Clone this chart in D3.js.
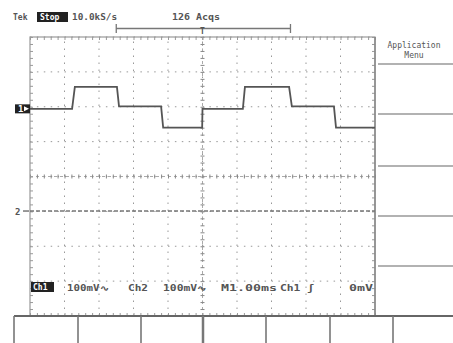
<!DOCTYPE html>
<html>
<head>
<meta charset="utf-8">
<script src="https://cdn.jsdelivr.net/npm/d3@7"></script>
<style>
  body { margin: 0; background: #fff; }
  svg { display: block; }
  text { font-family: "DejaVu Sans Mono", monospace; font-weight: bold; fill: #555; }
</style>
</head>
<body>
<div id="scope"></div>
<script>
// ch1 waveform, time in ms from trigger, volts in mV above the ch1 ground marker
let ch1Time = [-5, -3.78, -3.70, -2.48, -2.42, -1.20, -1.14, -0.01, 0.0, 1.17, 1.23, 2.51, 2.59, 3.81, 3.87, 5];
let ch1Volts = [0, 0, 63, 63, 7, 7, -54, -54, 0, 0, 63, 63, 7, 7, -54, -54];
// ch2 is flat at its ground
let ch2Time = [-5, 5];
let ch2Volts = [0, 0];

let ch1Position = 1.94; // divisions above centre
let ch2Position = -0.99;
let voltsPerDiv = 100;
let msPerDiv = 1;

let statusLabels = ["100mV\u223F", "Ch2", "100mV\u223F", "M1.00ms", "Ch1 \u0283", "0mV"];
let menuTitle = ["Application", "Menu"];

let width = 453, height = 343;
let marginLeft = 30, marginTop = 37, plotW = 345, plotH = 279;

let svg = d3.select("#scope").append("svg")
    .attr("width", width)
    .attr("height", height);

// scales, in divisions
let x = d3.scaleLinear().domain([-5, 5]).range([marginLeft, marginLeft + plotW]);
let y = d3.scaleLinear().domain([-4, 4]).range([marginTop + plotH, marginTop]);

let g = svg.append("g");

// dotted grid
d3.range(-4, 5).forEach(function (d) {
    if (d === -5 || d === 5) return;
    g.append("line")
        .attr("x1", x(-5)).attr("x2", x(5))
        .attr("y1", y(d)).attr("y2", y(d))
        .attr("stroke", "#999").attr("stroke-width", 1)
        .attr("stroke-dasharray", "1.5,5.4");
});
d3.range(-4, 5).forEach(function (d) {
    g.append("line")
        .attr("x1", x(d)).attr("x2", x(d))
        .attr("y1", y(-4)).attr("y2", y(4))
        .attr("stroke", "#999").attr("stroke-width", 1)
        .attr("stroke-dasharray", "1.5,5.5");
});

// centre cross with minor ticks
let minor = d3.range(-5, 5.01, 0.2);
let minorY = d3.range(-4, 4.01, 0.2);
g.append("line").attr("x1", x(-5)).attr("x2", x(5)).attr("y1", y(0)).attr("y2", y(0))
    .attr("stroke", "#aaa").attr("stroke-dasharray", "3,3");
g.append("line").attr("x1", x(0)).attr("x2", x(0)).attr("y1", y(-4)).attr("y2", y(4))
    .attr("stroke", "#aaa").attr("stroke-dasharray", "3,3");

g.append("g")
    .attr("transform", "translate(0," + (y(0) - 2) + ")")
    .call(d3.axisBottom(x).tickValues(minor).tickSize(4).tickFormat(""))
    .call(a => a.select(".domain").remove())
    .selectAll("line").attr("stroke", "#888");
g.append("g")
    .attr("transform", "translate(" + (x(0) - 2) + ",0)")
    .call(d3.axisRight(y).tickValues(minorY).tickSize(4).tickFormat(""))
    .call(a => a.select(".domain").remove())
    .selectAll("line").attr("stroke", "#888");

// border with ticks on the inside
g.append("rect")
    .attr("x", x(-5)).attr("y", y(4))
    .attr("width", plotW).attr("height", plotH)
    .attr("fill", "none").attr("stroke", "#999").attr("stroke-width", 1.2);
g.append("g").attr("transform", "translate(0," + y(4) + ")")
    .call(d3.axisBottom(x).tickValues(minor).tickSize(3).tickFormat(""))
    .call(a => a.select(".domain").remove())
    .selectAll("line").attr("stroke", "#999");
g.append("g").attr("transform", "translate(0," + y(-4) + ")")
    .call(d3.axisTop(x).tickValues(minor).tickSize(3).tickFormat(""))
    .call(a => a.select(".domain").remove())
    .selectAll("line").attr("stroke", "#999");
g.append("g").attr("transform", "translate(" + x(-5) + ",0)")
    .call(d3.axisRight(y).tickValues(minorY).tickSize(3).tickFormat(""))
    .call(a => a.select(".domain").remove())
    .selectAll("line").attr("stroke", "#999");
g.append("g").attr("transform", "translate(" + x(5) + ",0)")
    .call(d3.axisLeft(y).tickValues(minorY).tickSize(3).tickFormat(""))
    .call(a => a.select(".domain").remove())
    .selectAll("line").attr("stroke", "#999");
g.append("line").attr("x1", x(5)).attr("x2", x(5)).attr("y1", y(4)).attr("y2", y(-4))
    .attr("stroke", "#888").attr("stroke-width", 1.5);

// traces
let ch1Line = d3.line()
    .x(function (d, i) { return x(ch1Time[i] / msPerDiv); })
    .y(function (d) { return y(d / voltsPerDiv + ch1Position); });
svg.append("path")
    .attr("d", ch1Line(ch1Volts))
    .attr("fill", "none").attr("stroke", "#555").attr("stroke-width", 1.8);

let ch2Line = d3.line()
    .x(function (d, i) { return x(ch2Time[i] / msPerDiv); })
    .y(function (d) { return y(d / voltsPerDiv + ch2Position); });
svg.append("path")
    .attr("d", ch2Line(ch2Volts))
    .attr("fill", "none").attr("stroke", "#777").attr("stroke-width", 1.4)
    .attr("stroke-dasharray", "4,2");

// ground markers
let m1 = y(ch1Position);
svg.append("rect").attr("x", 15).attr("y", m1 - 4.5).attr("width", 15).attr("height", 9).attr("fill", "#222");
svg.append("text").attr("x", 18).attr("y", m1 + 3.5).style("font-size", "9px").style("fill", "#fff").text("1");
svg.append("path").attr("d", "M24," + (m1 - 2.5) + "L29," + m1 + "L24," + (m1 + 2.5) + "Z").attr("fill", "#fff");
let m2 = y(ch2Position);
svg.append("text").attr("x", 15).attr("y", m2 + 3.5).style("font-size", "9px").text("2");
svg.append("path").attr("d", "M23," + m2 + "L29," + m2).attr("stroke", "#555").attr("stroke-width", 1.2);

// top header
svg.append("text").attr("x", 13).attr("y", 20).style("font-size", "8px").text("Tek");
svg.append("rect").attr("x", 37).attr("y", 12).attr("width", 31).attr("height", 10).attr("fill", "#222");
svg.append("text").attr("x", 40).attr("y", 20).style("font-size", "8px").style("fill", "#fff").text("Stop");
svg.append("text").attr("x", 72).attr("y", 20).style("font-size", "8px")
    .attr("textLength", 45).attr("lengthAdjust", "spacingAndGlyphs").text("10.0kS/s");
svg.append("text").attr("x", 172).attr("y", 20).style("font-size", "8px")
    .attr("textLength", 48).attr("lengthAdjust", "spacingAndGlyphs").text("126 Acqs");

// trigger bracket
svg.append("path")
    .attr("d", "M" + x(-2.5) + ",24V33M" + x(-2.5) + ",28.5H" + x(2.55) + "M" + x(2.55) + ",24V33")
    .attr("fill", "none").attr("stroke", "#777").attr("stroke-width", 1.3);
svg.append("text").attr("x", x(0)).attr("y", 34).attr("text-anchor", "middle").style("font-size", "8px").text("T");

// status line
svg.append("rect").attr("x", 31).attr("y", 282).attr("width", 23).attr("height", 10).attr("fill", "#222");
svg.append("text").attr("x", 33).attr("y", 290).style("font-size", "8px").style("fill", "#fff").text("Ch1");
let statusX = [67, 128, 163, 221, 280, 349];
let statusW = [42, 20, 44, 56, 34, 24];
statusLabels.forEach(function (s, i) {
    svg.append("text").attr("x", statusX[i]).attr("y", 291).style("font-size", "8px")
        .attr("textLength", statusW[i]).attr("lengthAdjust", "spacingAndGlyphs").text(s);
});

// right side menu
svg.append("text").attr("x", 414).attr("y", 48).attr("text-anchor", "middle")
    .style("font-size", "8px").style("font-weight", "normal").text(menuTitle[0]);
svg.append("text").attr("x", 414).attr("y", 58).attr("text-anchor", "middle")
    .style("font-size", "8px").style("font-weight", "normal").text(menuTitle[1]);
[64, 114, 166, 216, 266].forEach(function (yy) {
    svg.append("line").attr("x1", 378).attr("x2", 453).attr("y1", yy).attr("y2", yy)
        .attr("stroke", "#999").attr("stroke-width", 1.5);
});

// bottom soft keys
svg.append("line").attr("x1", 14).attr("x2", 453).attr("y1", 316).attr("y2", 316)
    .attr("stroke", "#666").attr("stroke-width", 2);
[14, 78, 141, 203, 266, 330, 393].forEach(function (xx) {
    svg.append("line").attr("x1", xx).attr("x2", xx).attr("y1", 316).attr("y2", 343)
        .attr("stroke", "#777").attr("stroke-width", xx === 203 ? 2.5 : 1.6);
});
</script>
</body>
</html>
